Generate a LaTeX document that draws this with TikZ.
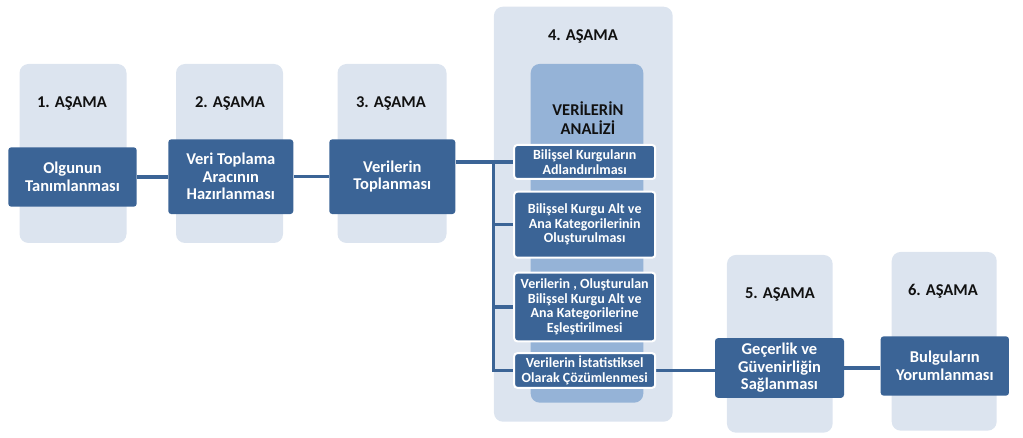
\documentclass[tikz,border=0pt]{standalone}
\usepackage{fontspec}
\setmainfont{Carlito}
\pgfdeclarelayer{back}
\pgfdeclarelayer{mid}
\pgfsetlayers{back,mid,main}
\definecolor{bgc}{HTML}{DCE4EF}
\definecolor{dk}{HTML}{3B6496}
\definecolor{midc}{HTML}{95B3D7}
\definecolor{lab}{HTML}{111111}
\tikzset{
  stagebg/.style={fill=bgc, rounded corners=9pt, inner sep=0pt},
  stagelab/.style={text=lab, font=\bfseries\fontsize{16.5}{18.5}\selectfont, align=center, inner sep=0pt},
  mainbox/.style={fill=dk, rounded corners=3pt, text=white, inner sep=0pt, align=center,
    font=\bfseries\fontsize{16.5}{17.5}\selectfont},
  subbox/.style={fill=dk, draw=white, line width=2pt, rounded corners=3pt, text=white, inner sep=0pt,
    align=center, minimum width=141pt, font=\bfseries\fontsize{14}{14.5}\selectfont},
  link/.style={draw=dk, line width=3.5pt}
}
\begin{document}
\begin{tikzpicture}[x=1pt,y=-1pt]
\useasboundingbox (0,0) rectangle (1023,438);
% stage backgrounds
\begin{pgfonlayer}{back}
\node[stagebg, minimum width=107pt, minimum height=179pt] (s1) at (73,153.5) {};
\node[stagebg, minimum width=107pt, minimum height=179pt] (s2) at (229.5,153.5) {};
\node[stagebg, minimum width=109pt, minimum height=179pt] (s3) at (392,153.5) {};
\node[stagebg, minimum width=178.7pt, minimum height=415pt] (s4) at (583.3,214.2) {};
\node[fill=midc, rounded corners=9pt, inner sep=0pt, minimum width=112.6pt, minimum height=338.7pt] (s4in) at (587,233.3) {};
\node[stagebg, minimum width=105.7pt, minimum height=177.7pt] (s5) at (779.8,343.8) {};
\node[stagebg, minimum width=105pt, minimum height=178.7pt] (s6) at (944.2,341.3) {};
\end{pgfonlayer}
% stage labels
\node[stagelab] (l1) at (72,103) {1. AŞAMA};
\node[stagelab] (l2) at (230,103) {2. AŞAMA};
\node[stagelab] (l3) at (391,103) {3. AŞAMA};
\node[stagelab] (l4) at (583,36) {4. AŞAMA};
\node[stagelab] (l4b) at (588,118) {VERİLERİN\\ANALİZİ};
\node[stagelab] (l5) at (780,294) {5. AŞAMA};
\node[stagelab] (l6) at (943,291) {6. AŞAMA};
% main boxes
\node[mainbox, minimum width=128.4pt, minimum height=59.4pt] (b1) at (72.5,177) {Olgunun\\Tanımlanması};
\node[mainbox, minimum width=125pt, minimum height=74.7pt] (b2) at (230.8,176.7) {Veri Toplama\\Aracının\\Hazırlanması};
\node[mainbox, minimum width=126pt, minimum height=74.7pt] (b3) at (392.3,176.7) {Verilerin\\Toplanması};
\node[mainbox, minimum width=129pt, minimum height=59.7pt] (b5) at (779.5,368) {Geçerlik ve\\Güvenirliğin\\Sağlanması};
\node[mainbox, minimum width=128.3pt, minimum height=59.3pt] (b6) at (944.8,366) {Bulguların\\Yorumlanması};
% sub boxes
\node[subbox, minimum height=34pt] (sb1) at (584.7,162) {Bilişsel Kurguların\\Adlandırılması};
\node[subbox, minimum height=66pt] (sb2) at (584.7,224.7) {Bilişsel Kurgu Alt ve\\Ana Kategorilerinin\\Oluşturulması};
\node[subbox, minimum height=68.6pt] (sb3) at (584.7,307) {Verilerin , Oluşturulan\\Bilişsel Kurgu Alt ve\\Ana Kategorilerine\\Eşleştirilmesi};
\node[subbox, minimum height=34.6pt] (sb4) at (584.7,370.5) {Verilerin İstatistiksel\\Olarak Çözümlenmesi};
\coordinate (j) at (493.5,162);
% connectors
\begin{pgfonlayer}{mid}
\draw[link] (b1.east) -- (b1.east -| b2.west);
\draw[link] (b2.east) -- (b2.east -| b3.west);
\draw[link] (b3.east |- j) -- (sb1.west);
\draw[link] (j) |- (sb4.west);
\draw[link] (j |- sb2.west) -- (sb2.west);
\draw[link] (j |- sb3.west) -- (sb3.west);
\draw[link] (sb4.east) -- (sb4.east -| b5.west);
\draw[link] (b5.east) -- (b5.east -| b6.west);
\end{pgfonlayer}
\end{tikzpicture}
\end{document}
